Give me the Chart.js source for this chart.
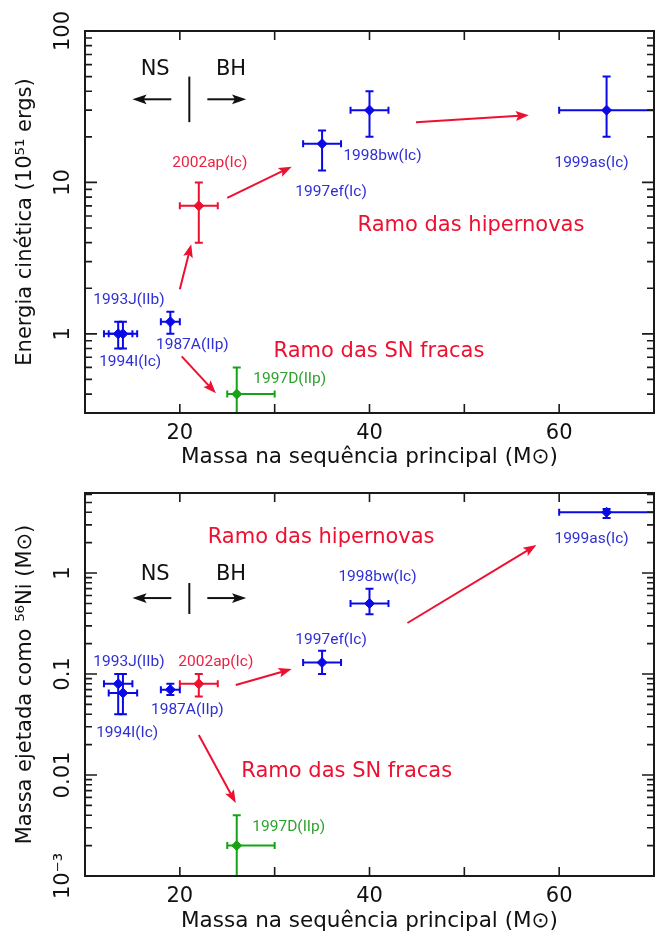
<!DOCTYPE html>
<html lang="pt">
<head>
<meta charset="utf-8">
<title>Supernovas: energia cinética e massa de níquel</title>
<script src="https://cdn.jsdelivr.net/npm/chart.js@4.4.1/dist/chart.umd.min.js"></script>
<style>
  html, body { margin: 0; padding: 0; background: #fff; overflow: hidden; }
  .painel { width: 655px; overflow: hidden; }
  canvas { display: block; }
</style>
</head>
<body>
<div class="painel" style="height:470px"><canvas id="energia" width="662" height="470"></canvas></div>
<div class="painel" style="height:464px"><canvas id="niquel" width="662" height="464"></canvas></div>
<script>
// supernovas e massa na sequência principal (M☉)
const supernovas = ['1994I(Ic)', '1993J(IIb)', '1987A(IIp)', '1997D(IIp)', '2002ap(Ic)', '1997ef(Ic)', '1998bw(Ic)', '1999as(Ic)'];
const massa    = [13.5, 14, 19, 26, 22, 35, 40, 65];
const massaMin = [12, 12.5, 18, 25, 20, 33, 38, 60];
const massaMax = [15, 15.5, 20, 30, 24, 37, 42, 70];

// energia cinética (10^51 erg)
const energia    = [1, 1, 1.2, 0.4, 7, 18, 30, 30];
const energiaMin = [0.8, 0.8, 1.0, 0.2, 4, 12, 20, 20];
const energiaMax = [1.2, 1.2, 1.4, 0.6, 10, 22, 40, 50];

// massa ejetada como 56Ni (M☉)
const niquel    = [0.08, 0.065, 0.07, 0.002, 0.08, 0.13, 0.5, 4];
const niquelMin = [0.04, 0.04, 0.062, 0.0005, 0.06, 0.1, 0.39, 3.5];
const niquelMax = [0.1, 0.1, 0.08, 0.004, 0.1, 0.17, 0.7, 4.3];

// marcas com rótulo
const ticksMassa = [20, 40, 60];
const ticksEnergia = [1, 10, 100];
const rotulosEnergia = ['1', '10', '100'];
const ticksNiquel = [0.001, 0.01, 0.1, 1];
const rotulosNiquel = ['10⁻³', '0.01', '0.1', '1'];

const FONTE = '"DejaVu Sans", sans-serif';
const FONTE_ROTULO = 'Roboto, "DejaVu Sans", sans-serif';
const AZUL = '#0a0ae6', VERMELHO = '#ee1030', VERDE = '#16a316';
const cores = [AZUL, AZUL, AZUL, VERDE, VERMELHO, AZUL, AZUL, AZUL];
const coresRotulo = ['#2f2fd6', '#2f2fd6', '#2f2fd6', '#2ea22e', '#ec2040', '#2f2fd6', '#2f2fd6', '#2f2fd6'];

// deslocamento (px) de cada rótulo em relação ao seu ponto
const deslocEnergia = [[12, 28], [6, -34], [22, 23], [53, -15], [11, -43], [9, 48], [13, 46], [-15, 53]];
const deslocNiquel  = [[9, 49], [6, -31], [17, 20], [52, -18], [17, -22], [9, -22], [8, -26], [-15, 27]];

function seta(ctx, x0, y0, x1, y1, cor, largura, cabeca, abertura) {
  const ang = Math.atan2(y1 - y0, x1 - x0);
  ctx.strokeStyle = cor;
  ctx.fillStyle = cor;
  ctx.lineWidth = largura;
  ctx.beginPath();
  ctx.moveTo(x0, y0);
  ctx.lineTo(x1 - Math.cos(ang) * cabeca * 0.7, y1 - Math.sin(ang) * cabeca * 0.7);
  ctx.stroke();
  ctx.beginPath();
  ctx.moveTo(x1, y1);
  ctx.lineTo(x1 - cabeca * Math.cos(ang - abertura), y1 - cabeca * Math.sin(ang - abertura));
  ctx.lineTo(x1 - cabeca * 0.75 * Math.cos(ang), y1 - cabeca * 0.75 * Math.sin(ang));
  ctx.lineTo(x1 - cabeca * Math.cos(ang + abertura), y1 - cabeca * Math.sin(ang + abertura));
  ctx.closePath();
  ctx.fill();
}

const painel = {
  id: 'painel',
  beforeDatasetsDraw(chart, args, o) {
    // barras de erro, recortadas na área do gráfico
    const { ctx, chartArea: a, scales: { x, y } } = chart;
    ctx.save();
    ctx.beginPath();
    ctx.rect(a.left, a.top, a.right - a.left, a.bottom - a.top);
    ctx.clip();
    ctx.lineWidth = 2;
    massa.forEach((m, i) => {
      const px = x.getPixelForValue(m), py = y.getPixelForValue(o.valores[i]);
      const x0 = x.getPixelForValue(massaMin[i]), x1 = x.getPixelForValue(massaMax[i]);
      const y0 = y.getPixelForValue(o.minimos[i]), y1 = y.getPixelForValue(o.maximos[i]);
      ctx.strokeStyle = cores[i];
      ctx.beginPath();
      ctx.moveTo(x0, py); ctx.lineTo(x1, py);
      ctx.moveTo(x0, py - 3.5); ctx.lineTo(x0, py + 3.5);
      ctx.moveTo(x1, py - 3.5); ctx.lineTo(x1, py + 3.5);
      ctx.moveTo(px, y0); ctx.lineTo(px, y1);
      ctx.moveTo(px - 4, y0); ctx.lineTo(px + 4, y0);
      ctx.moveTo(px - 4, y1); ctx.lineTo(px + 4, y1);
      ctx.stroke();
    });
    ctx.restore();
  },
  afterDraw(chart, args, o) {
    const { ctx, chartArea: a, scales: { x, y } } = chart;
    ctx.save();

    // moldura e marcas voltadas para dentro
    ctx.strokeStyle = '#1a1a1a';
    ctx.lineWidth = 2;
    ctx.strokeRect(a.left, a.top, a.right - a.left, a.bottom - a.top);
    ctx.lineWidth = 1.6;
    ctx.beginPath();
    for (let v = 10; v <= 70; v += 10) {
      const px = x.getPixelForValue(v);
      ctx.moveTo(px, a.bottom); ctx.lineTo(px, a.bottom - 9);
      ctx.moveTo(px, a.top); ctx.lineTo(px, a.top + 9);
    }
    const d0 = Math.floor(Math.log10(o.min)), d1 = Math.ceil(Math.log10(o.max));
    for (let d = d0; d <= d1; d++) {
      for (let k = 1; k <= 9; k++) {
        const v = k * Math.pow(10, d);
        if (v < o.min * 0.999 || v > o.max * 1.001) continue;
        const py = y.getPixelForValue(v), len = k === 1 ? 12 : 7;
        ctx.moveTo(a.left, py); ctx.lineTo(a.left + len, py);
        ctx.moveTo(a.right, py); ctx.lineTo(a.right - len, py);
      }
    }
    ctx.stroke();

    // rótulos do eixo y, girados
    ctx.fillStyle = '#111';
    ctx.font = '21px ' + FONTE;
    ctx.textAlign = 'center';
    ctx.textBaseline = 'middle';
    o.ticks.forEach((v, i) => {
      ctx.save();
      ctx.translate(64, y.getPixelForValue(v));
      ctx.rotate(-Math.PI / 2);
      ctx.fillText(o.rotulos[i], 0, 0);
      ctx.restore();
    });

    // NS | BH
    const an = o.anotacoes, lim = an.limite;
    const lx = x.getPixelForValue(lim.x);
    ctx.strokeStyle = '#111';
    ctx.lineWidth = 2;
    ctx.beginPath();
    ctx.moveTo(lx, y.getPixelForValue(lim.y0));
    ctx.lineTo(lx, y.getPixelForValue(lim.y1));
    ctx.stroke();
    const ys = y.getPixelForValue(lim.ySeta);
    seta(ctx, x.getPixelForValue(lim.esq[0]), ys, x.getPixelForValue(lim.esq[1]), ys, '#111', 2, 15, 0.33);
    seta(ctx, x.getPixelForValue(lim.dir[0]), ys, x.getPixelForValue(lim.dir[1]), ys, '#111', 2, 15, 0.33);
    ctx.fillStyle = '#111';
    ctx.font = '21px ' + FONTE;
    const yt = y.getPixelForValue(lim.yTexto);
    ctx.fillText('NS', x.getPixelForValue(lim.ns), yt);
    ctx.fillText('BH', x.getPixelForValue(lim.bh), yt);

    // setas vermelhas entre os ramos
    an.setas.forEach(s => {
      seta(ctx, x.getPixelForValue(s[0]), y.getPixelForValue(s[1]),
        x.getPixelForValue(s[2]), y.getPixelForValue(s[3]), VERMELHO, 2, 14, 0.36);
    });

    ctx.fillStyle = VERMELHO;
    ctx.font = '21px ' + FONTE;
    an.ramos.forEach(r => {
      ctx.fillText(r[0], x.getPixelForValue(r[1]), y.getPixelForValue(r[2]));
    });

    // nomes das supernovas
    ctx.font = '15.5px ' + FONTE_ROTULO;
    supernovas.forEach((nome, i) => {
      ctx.fillStyle = coresRotulo[i];
      ctx.fillText(nome, x.getPixelForValue(massa[i]) + o.desloc[i][0],
        y.getPixelForValue(o.valores[i]) + o.desloc[i][1]);
    });
    ctx.restore();
  }
};

function criarPainel(id, cfg) {
  return new Chart(document.getElementById(id), {
    type: 'scatter',
    data: {
      datasets: [{
        data: massa.map((m, i) => ({ x: m, y: cfg.valores[i] })),
        pointStyle: 'rectRot',
        pointRadius: 5,
        pointBackgroundColor: cores,
        pointBorderColor: cores,
        pointBorderWidth: 1
      }]
    },
    options: {
      responsive: false,
      animation: false,
      devicePixelRatio: 1,
      layout: { padding: { top: cfg.topo, right: 5, left: 0, bottom: 0 } },
      plugins: {
        legend: { display: false },
        tooltip: { enabled: false },
        painel: cfg
      },
      scales: {
        x: {
          type: 'linear',
          min: 10,
          max: 70,
          grid: { display: false, drawTicks: false },
          border: { display: false },
          ticks: {
            stepSize: 10,
            autoSkip: false,
            maxRotation: 0,
            padding: 8,
            color: '#111',
            font: { family: FONTE, size: 21 },
            callback: v => ticksMassa.includes(v) ? String(v) : ''
          },
          title: {
            display: true,
            text: 'Massa na sequência principal (M⊙)',
            color: '#111',
            font: { family: FONTE, size: 21.5 },
            padding: { top: 0, bottom: 0 }
          },
          afterFit: s => { s.height = cfg.alturaX; }
        },
        y: {
          type: 'logarithmic',
          min: cfg.min,
          max: cfg.max,
          grid: { display: false, drawTicks: false },
          border: { display: false },
          ticks: { display: false },
          title: {
            display: true,
            text: cfg.titulo,
            color: '#111',
            font: { family: FONTE, size: 21 },
            padding: { top: 13, bottom: 0 }
          },
          afterFit: s => { s.width = 85; }
        }
      }
    },
    plugins: [painel]
  });
}

criarPainel('energia', {
  titulo: 'Energia cinética (10⁵¹ ergs)',
  valores: energia, minimos: energiaMin, maximos: energiaMax,
  min: 0.32, max: 100, topo: 31, alturaX: 57,
  ticks: ticksEnergia, rotulos: rotulosEnergia,
  desloc: deslocEnergia,
  anotacoes: {
    setas: [[20, 1.97, 21.2, 3.9], [25, 7.9, 31.8, 12.7], [44.9, 25, 56.8, 27.8], [20.2, 0.71, 23.8, 0.405]],
    ramos: [['Ramo das hipernovas', 50.7, 5.16], ['Ramo das SN fracas', 41, 0.76]],
    limite: { x: 21, y0: 25, y1: 50, ySeta: 35.4, esq: [19.1, 15], dir: [22.9, 27], yTexto: 55.6, ns: 17.4, bh: 25.4 }
  }
});

criarPainel('niquel', {
  titulo: 'Massa ejetada como ⁵⁶Ni (M⊙)',
  valores: niquel, minimos: niquelMin, maximos: niquelMax,
  min: 0.001, max: 6.2, topo: 23, alturaX: 58,
  ticks: ticksNiquel, rotulos: rotulosNiquel,
  desloc: deslocNiquel,
  anotacoes: {
    setas: [[25.9, 0.078, 31.8, 0.112], [44, 0.32, 57.6, 1.89], [22, 0.0249, 25.9, 0.00528]],
    ramos: [['Ramo das hipernovas', 34.9, 2.27], ['Ramo das SN fracas', 37.6, 0.0107]],
    limite: { x: 21, y0: 0.393, y1: 0.796, ySeta: 0.565, esq: [19.1, 15], dir: [22.9, 27], yTexto: 0.955, ns: 17.4, bh: 25.4 }
  }
});
</script>
</body>
</html>
